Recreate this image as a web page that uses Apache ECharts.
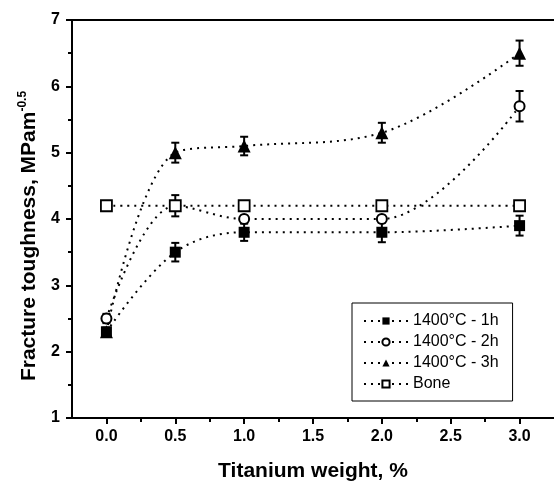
<!DOCTYPE html>
<html><head><meta charset="utf-8">
<script src="https://cdn.jsdelivr.net/npm/echarts@6/dist/echarts.min.js"></script>
<style>html,body{margin:0;padding:0;background:#fff}#c{width:554px;height:487px}</style>
</head><body><div id="c"></div>
<script>
const xValues = [0.0, 0.5, 1.0, 2.0, 3.0];
const xMajorTicks = [0, 0.5, 1.0, 1.5, 2.0, 2.5, 3.0];
const xTickLabels = ['0.0', '0.5', '1.0', '1.5', '2.0', '2.5', '3.0'];
const xMinorTicks = [0.25, 0.75, 1.25, 1.75, 2.25, 2.75];
const seriesNames = ['1400°C - 1h', '1400°C - 2h', '1400°C - 3h', 'Bone'];
const toughness1h = [2.3, 3.5, 3.8, 3.8, 3.9];
const toughness2h = [2.5, 4.2, 4.0, 4.0, 5.7];
const toughness3h = [2.3, 5.0, 5.1, 5.3, 6.5];
const toughnessBone = [4.2, 4.2, 4.2, 4.2, 4.2];
const err1h = [0.06, 0.14, 0.13, 0.15, 0.15];
const err2h = [0.07, 0.16, 0.05, 0.05, 0.23];
const err3h = [0.06, 0.15, 0.14, 0.15, 0.19];

const FONT = 'Liberation Sans, Arial, sans-serif';
const chart = echarts.init(document.getElementById('c'), null, {renderer: 'canvas'});

function pts(vals) { return xValues.map((x, i) => [x, vals[i]]); }

function errSeries(vals, errs) {
  return {
    type: 'custom', silent: true, z: 1,
    data: xValues.map((x, i) => [x, vals[i] - errs[i], vals[i] + errs[i]]),
    renderItem(params, api) {
      const x = api.value(0);
      const lo = api.coord([x, api.value(1)]);
      const hi = api.coord([x, api.value(2)]);
      const w = 4;
      const style = {stroke: '#000', lineWidth: 2, fill: null};
      return {type: 'group', children: [
        {type: 'line', shape: {x1: lo[0], y1: lo[1], x2: hi[0], y2: hi[1]}, style},
        {type: 'line', shape: {x1: lo[0] - w, y1: lo[1], x2: lo[0] + w, y2: lo[1]}, style},
        {type: 'line', shape: {x1: hi[0] - w, y1: hi[1], x2: hi[0] + w, y2: hi[1]}, style}
      ]};
    }
  };
}

const dotted = {color: '#000', width: 2, type: [2, 5]};
function lineSeries(name, vals, symbol, size, fill, bw) {
  return {
    name, type: 'line', data: pts(vals), smooth: 0.35, z: 3,
    symbol, symbolSize: size, showSymbol: true,
    lineStyle: dotted,
    itemStyle: {color: fill, borderColor: '#000', borderWidth: bw},
    emphasis: {disabled: true}
  };
}

const option = {
  animation: false,
  backgroundColor: '#fff',
  grid: {left: 72, top: 20, width: 483, bottom: 68},
  legend: {
    data: seriesNames, orient: 'vertical', left: 352, top: 303,
    padding: [10, 14, 9, 11], itemGap: 5, itemWidth: 44, itemHeight: 9,
    borderColor: '#000', borderWidth: 1, backgroundColor: '#fff',
    textStyle: {fontSize: 16, color: '#000', fontFamily: FONT}
  },
  xAxis: [
    {
      type: 'value', min: -0.25, max: 3.25, position: 'bottom',
      axisLine: {show: true, onZero: false, lineStyle: {color: '#000', width: 2}},
      axisTick: {show: true, customValues: xMajorTicks, length: 6, lineStyle: {color: '#000', width: 2}},
      axisLabel: {customValues: xMajorTicks, margin: 11, fontSize: 16, fontWeight: 'bold', color: '#000', fontFamily: FONT,
        formatter: v => xTickLabels[Math.round(v * 2)]},
      splitLine: {show: false},
      name: 'Titanium weight, %', nameLocation: 'middle', nameGap: 43,
      nameTextStyle: {fontSize: 21, fontWeight: 'bold', color: '#000', fontFamily: FONT}
    },
    {
      type: 'value', min: -0.25, max: 3.25, position: 'bottom',
      axisLine: {show: false, onZero: false},
      axisTick: {show: true, customValues: xMinorTicks, length: 4, lineStyle: {color: '#000', width: 2}},
      axisLabel: {show: false}, splitLine: {show: false}
    },
    {
      type: 'value', min: -0.25, max: 3.25, position: 'top',
      axisLine: {show: true, onZero: false, lineStyle: {color: '#000', width: 2}},
      axisTick: {show: false}, axisLabel: {show: false}, splitLine: {show: false}
    }
  ],
  yAxis: {
    type: 'value', min: 1, max: 7, interval: 1, position: 'left',
    axisLine: {show: true, onZero: false, lineStyle: {color: '#000', width: 2}},
    axisTick: {show: true, length: 6, lineStyle: {color: '#000', width: 2}},
    minorTick: {show: true, splitNumber: 2, length: 4, lineStyle: {color: '#000', width: 2}},
    axisLabel: {margin: 12, fontSize: 16, fontWeight: 'bold', color: '#000', fontFamily: FONT},
    splitLine: {show: false},
    name: '{a|Fracture toughness, MPam}{b|-0.5}', nameLocation: 'middle', nameGap: 25, nameRotate: 90,
    nameTextStyle: {
      padding: [0, 34, 0, 0],
      rich: {
        a: {fontSize: 21, fontWeight: 'bold', color: '#000', fontFamily: FONT, lineHeight: 26},
        b: {fontSize: 12, fontWeight: 'bold', color: '#000', fontFamily: FONT, verticalAlign: 'top', lineHeight: 12}
      }
    }
  },
  series: [
    errSeries(toughness1h, err1h),
    errSeries(toughness2h, err2h),
    errSeries(toughness3h, err3h),
    lineSeries(seriesNames[0], toughness1h, 'rect', 11, '#000', 0),
    lineSeries(seriesNames[1], toughness2h, 'circle', 10, '#fff', 2),
    lineSeries(seriesNames[2], toughness3h, 'triangle', 13, '#000', 0),
    lineSeries(seriesNames[3], toughnessBone, 'rect', 11, '#fff', 1.8)
  ]
};
chart.setOption(option);
</script></body></html>
